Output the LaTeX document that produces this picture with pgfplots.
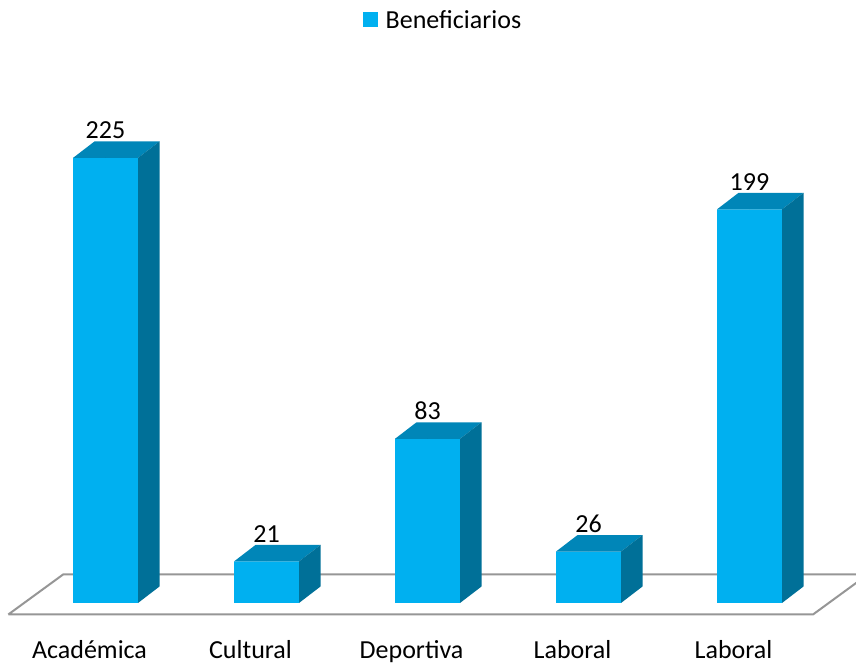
\documentclass[border=0pt]{standalone}
\usepackage{fontspec}
\setmainfont{Carlito}
\usepackage{pgfplots}
\usepackage{pgfplotstable}
\pgfplotsset{compat=1.18}

\definecolor{barfront}{RGB}{0,176,240}
\definecolor{bartop}{RGB}{0,134,184}
\definecolor{barside}{RGB}{0,112,152}
\definecolor{floorline}{RGB}{150,150,150}

% categories at 0..4, values = beneficiarios
\pgfplotstableread{
pos val
0 225
1 21
2 83
3 26
4 199
}\bardata

% floor of the 3d chart
\pgfplotstableread{
fx fy
-0.6037 -5.81
4.3945 -5.81
4.7360 14.50
-0.2618 14.50
-0.6037 -5.81
}\floordata

\newcommand{\chartfont}{\fontsize{26}{31}\selectfont}

\begin{document}
\begin{tikzpicture}
\begin{axis}[
  x=161pt, y=1.978pt,
  xmin=-0.6553, xmax=4.6615,
  ymin=-29.83, ymax=304.85,
  axis line style={draw=none},
  tick style={draw=none},
  ytick=\empty,
  xtick={0,...,4},
  xticklabels={Académica,Cultural,Deportiva,Laboral,Laboral},
  xticklabel style={font=\chartfont, anchor=base, yshift=3pt, xshift=-16pt},
  /pgf/number format/assume math mode=true,
  legend style={at={(0.5175,0.970)}, anchor=center, draw=none, fill=none,
    font=\chartfont, inner sep=0pt},
]
\addplot[forget plot, draw=floorline, line width=2pt, fill=white] table[x=fx,y=fy] \floordata;

\addplot[forget plot, only marks, mark=*, mark size=0pt, draw=none, fill=none,
  scatter,
  visualization depends on={rawy \as \barval},
  scatter/@pre marker code/.code={
    \pgfmathsetmacro\hh{-\barval*1.978}
    \pgfmathsetmacro\hb{16.5-\barval*1.978}
    \fill[bartop] (-32.5pt,0pt) -- (32.5pt,0pt) -- (54pt,16.5pt) -- (-11pt,16.5pt) -- cycle;
    \fill[barside] (32.5pt,0pt) -- (54pt,16.5pt) -- (54pt,\hb pt) -- (32.5pt,\hh pt) -- cycle;
  },
  scatter/@post marker code/.code={},
] table[x=pos,y=val] \bardata;

\addplot[ybar, bar width=65pt, bar shift=0pt, fill=barfront, draw=none,
  nodes near coords,
  nodes near coords style={font=\chartfont, anchor=base, yshift=19pt},
  legend image code/.code={\fill[barfront] (0pt,-7.5pt) rectangle (15pt,7.5pt); \path (21pt,0pt);},
] table[x=pos,y=val] \bardata;
\legend{Beneficiarios}
\end{axis}
\end{tikzpicture}
\end{document}
